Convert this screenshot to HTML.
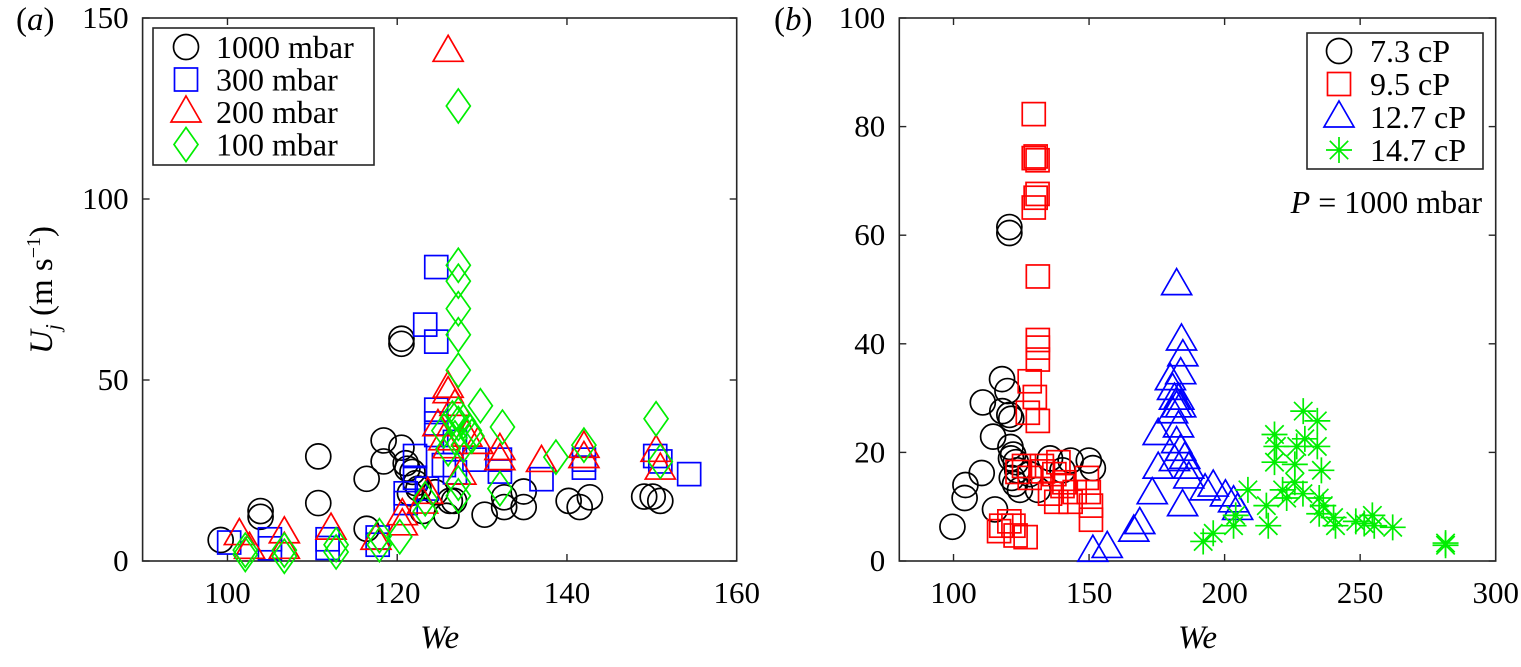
<!DOCTYPE html>
<html><head><meta charset="utf-8"><style>
html,body{margin:0;padding:0;background:#fff;}
svg{display:block;font-family:"Liberation Serif","DejaVu Serif",serif;}
svg text{font-family:"Liberation Serif","DejaVu Serif",serif !important;fill:#000;}
</style></head><body>
<svg id="fig" width="1521" height="667" viewBox="0 0 1521 667" font-family="Liberation Serif, DejaVu Serif, serif">
<g id="panelA"></g>
<g id="panelB"></g>
</svg>
<script>
// ---------- Panel (a) data ----------
const aXTicks = [100, 120, 140, 160];
const aYTicks = [0, 50, 100, 150];
const aSeriesNames = ["1000 mbar", "300 mbar", "200 mbar", "100 mbar"];
const a1000We = [99.2,103.9,103.9,110.7,110.7,116.4,116.4,118.4,118.4,120.5,120.5,120.5,121.0,121.8,121.5,122.5,123.0,125.8,126.7,126.2,130.3,132.6,132.6,134.9,134.9,140.2,141.5,142.7,149.1,150.1,151.0,121.2,122.2,124.5];
const a1000U  = [5.8,13.8,12.2,28.9,16.0,22.7,8.9,33.3,27.5,61.4,60.0,31.3,27.0,24.6,18.7,20.0,13.8,12.5,16.6,16.6,12.8,17.6,14.9,19.2,14.9,16.6,14.9,17.6,17.8,17.8,16.6,25.5,21.5,19.0];
const a300We = [100.2,105.0,105.0,111.8,111.8,117.7,117.7,121.0,121.0,122.1,122.1,124.6,123.3,124.6,124.6,124.6,124.6,126.8,126.8,129.1,132.1,132.1,137.0,142.0,142.0,150.4,151.0,154.4,123.5,125.5];
const a300U  = [5.1,6.0,3.5,6.0,3.6,6.5,4.5,18.7,16.0,23.0,29.0,81.2,65.3,60.6,41.8,38.0,34.8,32.9,24.5,28.0,28.0,24.7,22.6,28.0,25.8,29.0,27.5,24.0,20.0,26.5];
const a200We = [126.0,101.4,102.6,106.7,106.7,112.2,117.5,120.6,120.6,123.6,126.0,126.0,126.8,124.8,125.5,126.0,128.2,129.5,132.1,132.1,137.0,142.0,142.0,150.5,151.0,123.0,127.5];
const a200U  = [140.8,7.3,3.5,7.8,3.5,8.8,6.0,12.8,10.0,18.7,48.0,46.5,43.0,37.4,33.5,31.3,34.5,32.5,30.8,28.0,27.5,31.4,28.6,30.3,25.4,16.0,24.0];
const a100We = [127.2,127.2,127.2,127.2,127.2,127.2,129.8,132.4,127.2,127.2,126.5,127.8,128.5,126.8,127.8,126.0,138.7,142.0,150.5,151.0,132.1,127.2,127.2,123.3,123.3,120.3,117.9,117.9,112.8,112.8,106.7,106.7,102.1,102.1,125.5,128.8];
const a100U  = [125.7,81.7,77.3,69.7,62.5,52.7,42.9,37.0,40.5,38.0,39.5,38.5,36.0,34.0,32.0,31.0,28.7,32.0,39.3,27.5,20.0,18.0,21.5,17.2,13.7,6.7,7.0,4.5,4.5,2.5,3.0,1.3,3.0,1.8,36.0,34.5];

// ---------- Panel (b) data ----------
const bXTicks = [100, 150, 200, 250, 300];
const bYTicks = [0, 20, 40, 60, 80, 100];
const bSeriesNames = ["7.3 cP", "9.5 cP", "12.7 cP", "14.7 cP"];
const b73We = [99.6,104.1,104.4,110.4,110.8,114.6,115.3,117.9,119.9,118.0,120.6,121.3,120.6,120.6,121.0,122.0,121.2,123.0,123.5,121.5,124.5,122.7,131.1,135.6,140.2,143.2,149.9,151.4,128.1];
const b73U  = [6.3,11.6,14.0,16.2,29.2,22.9,9.5,33.5,31.3,27.6,26.9,26.2,61.5,60.4,21.0,19.6,18.9,18.2,16.7,15.3,13.1,14.2,13.1,18.9,16.7,18.5,18.5,17.1,16.0];
const b95We = [129.6,129.6,131.0,130.3,131.0,130.3,129.6,131.1,131.1,131.1,131.1,128.1,130.0,127.4,131.1,123.6,128.1,132.6,138.7,137.2,140.9,137.9,143.2,144.7,149.2,149.9,150.7,150.7,140.2,135.6,116.8,122.1,122.9,126.6,120.6,117.6,126.0,133.0];
const b95U  = [82.3,74.2,73.8,74.5,67.6,66.9,65.1,52.4,40.7,39.3,37.1,33.1,30.2,27.3,25.8,16.4,15.3,17.5,18.2,16.0,14.5,10.9,10.9,12.7,15.3,12.7,10.2,7.6,13.8,12.4,5.5,6.5,4.7,4.4,7.3,6.5,17.5,16.5];
const b127We = [151.4,156.7,166.5,168.7,182.3,184.1,184.6,183.8,180.0,180.8,181.5,182.3,180.8,183.8,183.1,183.0,175.5,182.3,183.8,185.3,181.5,186.8,175.5,173.3,184.5,186.8,192.8,195.8,200.3,203.3,204.8];
const b127U  = [1.8,2.5,5.5,6.9,50.9,40.7,37.8,34.5,33.4,31.6,29.8,28.4,27.3,28.4,29.8,24.7,23.3,21.8,20.4,18.9,18.5,17.1,17.1,12.4,10.2,15.3,13.1,13.8,12.0,10.9,9.5];
const b147We = [192.1,195.8,204.1,203.3,208.6,215.4,216.1,218.4,219.1,218.4,221.4,222.9,225.9,225.9,226.6,229.0,229.6,234.2,234.2,235.7,228.9,234.9,236.4,234.9,240.2,240.9,248.4,251.5,254.5,255.2,262.0,281.5,281.5];
const b147U  = [3.6,5.1,8.4,6.5,13.1,10.2,6.5,23.3,21.1,18.2,13.1,11.6,14.5,17.8,21.1,27.6,22.5,25.8,21.1,16.7,12.4,11.6,10.2,8.7,8.0,6.5,7.3,6.9,8.4,6.5,6.2,2.9,3.3];

const NS = "http://www.w3.org/2000/svg";
const SERIF = "Liberation Serif, DejaVu Serif, serif";
function mk(tag, attrs, parent){
  const e = document.createElementNS(NS, tag);
  for (const k in attrs) e.setAttribute(k, attrs[k]);
  if (tag === "text") e.setAttribute("font-family", SERIF);
  parent.appendChild(e);
  return e;
}
function marker(type, cx, cy, color, parent){
  let e;
  if (type === "circle") {
    e = mk("circle", {cx:cx, cy:cy, r:12.5, fill:"none", stroke:color, "stroke-width":1.7}, parent);
  } else if (type === "square") {
    e = mk("rect", {x:cx-11.5, y:cy-11.5, width:23, height:23, fill:"none", stroke:color, "stroke-width":1.7}, parent);
  } else if (type === "triangle") {
    e = mk("polygon", {points:`${cx},${cy-16} ${cx+15},${cy+10} ${cx-15},${cy+10}`, fill:"none", stroke:color, "stroke-width":1.7}, parent);
  } else if (type === "diamond") {
    e = mk("polygon", {points:`${cx},${cy-17} ${cx+12},${cy} ${cx},${cy+17} ${cx-12},${cy}`, fill:"none", stroke:color, "stroke-width":1.7}, parent);
  } else {
    const r = 13, d = 9.2;
    e = mk("path", {d:`M${cx-r},${cy}H${cx+r}M${cx},${cy-r}V${cy+r}M${cx-d},${cy-d}L${cx+d},${cy+d}M${cx-d},${cy+d}L${cx+d},${cy-d}`, fill:"none", stroke:color, "stroke-width":1.7}, parent);
  }
  return e;
}

function drawPanel(g, cfg){
  const L=cfg.left, R=cfg.right, T=18, B=561;
  const xs = v => L + (v - cfg.xmin)/(cfg.xmax - cfg.xmin)*(R-L);
  const ys = v => B - (v - cfg.ymin)/(cfg.ymax - cfg.ymin)*(B-T);
  const frame = mk("rect", {x:L, y:T, width:R-L, height:B-T, fill:"none", stroke:"#262626", "stroke-width":1.6}, g);
  
  
  cfg.xticks.forEach(t => {
    const x = xs(t);
    mk("line", {x1:x, y1:B, x2:x, y2:B-7, stroke:"#262626", "stroke-width":1.4}, g);
    mk("line", {x1:x, y1:T, x2:x, y2:T+7, stroke:"#262626", "stroke-width":1.4}, g);
    const tx = mk("text", {x:x, y:B+42, "font-size":31, "text-anchor":"middle"}, g);
    tx.textContent = t;
    
    
  });
  cfg.yticks.forEach(t => {
    const y = ys(t);
    mk("line", {x1:L, y1:y, x2:L+7, y2:y, stroke:"#262626", "stroke-width":1.4}, g);
    mk("line", {x1:R, y1:y, x2:R-7, y2:y, stroke:"#262626", "stroke-width":1.4}, g);
    const tx = mk("text", {x:L-14, y:y+10, "font-size":31, "text-anchor":"end"}, g);
    tx.textContent = t;
    
    
  });
  cfg.series.forEach(s => {
    const sg = mk("g", {}, g);
    
    
    s.x.forEach((v,i) => {
      const m = marker(s.type, xs(v), ys(s.y[i]), s.color, sg);
      
      
    });
  });
  const xl = mk("text", {x:(L+R)/2, y:648, "font-size":33, "font-style":"italic", "text-anchor":"middle"}, g);
  xl.textContent = "We";
  
  
  const lg = mk("g", {}, g);
  
  
  mk("rect", {x:cfg.leg.x, y:cfg.leg.y, width:cfg.leg.w, height:cfg.leg.h, fill:"#fff", stroke:"#262626", "stroke-width":1.6}, lg);
  cfg.series.forEach((s,i) => {
    const y = cfg.leg.y0 + i*cfg.leg.dy;
    const en = mk("g", {}, lg);
    
    
    marker(s.type, cfg.leg.mx, y, s.color, en);
    const t = mk("text", {x:cfg.leg.tx, y:y+11, "font-size":32}, en);
    t.textContent = s.label;
  });
}

drawPanel(document.getElementById("panelA"), {
  left:142.6, right:736.7, xmin:90, xmax:160, ymin:0, ymax:150,
  xticks:aXTicks, yticks:aYTicks,
  series:[
    {name:"series-1000-mbar", label:aSeriesNames[0], type:"circle", color:"#000", x:a1000We, y:a1000U},
    {name:"series-300-mbar", label:aSeriesNames[1], type:"square", color:"#0000ff", x:a300We, y:a300U},
    {name:"series-200-mbar", label:aSeriesNames[2], type:"triangle", color:"#ff0000", x:a200We, y:a200U},
    {name:"series-100-mbar", label:aSeriesNames[3], type:"diamond", color:"#00ee00", x:a100We, y:a100U}
  ],
  leg:{x:153, y:28, w:221, h:137, y0:47, dy:32.5, mx:186, tx:216}
});
drawPanel(document.getElementById("panelB"), {
  left:899.3, right:1495.7, xmin:80, xmax:300, ymin:0, ymax:100,
  xticks:bXTicks, yticks:bYTicks,
  series:[
    {name:"series-7-3-cp", label:bSeriesNames[0], type:"circle", color:"#000", x:b73We, y:b73U},
    {name:"series-9-5-cp", label:bSeriesNames[1], type:"square", color:"#ff0000", x:b95We, y:b95U},
    {name:"series-12-7-cp", label:bSeriesNames[2], type:"triangle", color:"#0000ff", x:b127We, y:b127U},
    {name:"series-14-7-cp", label:bSeriesNames[3], type:"star", color:"#00ee00", x:b147We, y:b147U}
  ],
  leg:{x:1307, y:33, w:176, h:136, y0:51, dy:33, mx:1339, tx:1370}
});

const fig = document.getElementById("fig");
function txt(x,y,s,attrs,name){
  const t = document.createElementNS(NS,"text");
  t.setAttribute("x",x); t.setAttribute("y",y);
  t.setAttribute("font-family", SERIF);
  for (const k in attrs) t.setAttribute(k, attrs[k]);
  t.innerHTML = s;
  
  
  fig.appendChild(t);
}
txt(16, 30, '(<tspan font-style="italic">a</tspan>)', {"font-size":33}, 'panel-a-label');
txt(774, 30, '(<tspan font-style="italic">b</tspan>)', {"font-size":33}, 'panel-b-label');
txt(1482, 213, '<tspan font-style="italic">P</tspan> = 1000 mbar', {"font-size":32, "text-anchor":"end"}, 'pressure-annotation');
txt(52, 290, '<tspan font-style="italic">U</tspan><tspan font-style="italic" font-size="21" dy="8">j</tspan><tspan dy="-8"> (m s</tspan><tspan font-size="20" dy="-12">−1</tspan><tspan dy="12">)</tspan>', {"font-size":33, "text-anchor":"middle", "transform":"rotate(-90 52 290)"}, 'y-axis-title');
</script>
</body></html>
